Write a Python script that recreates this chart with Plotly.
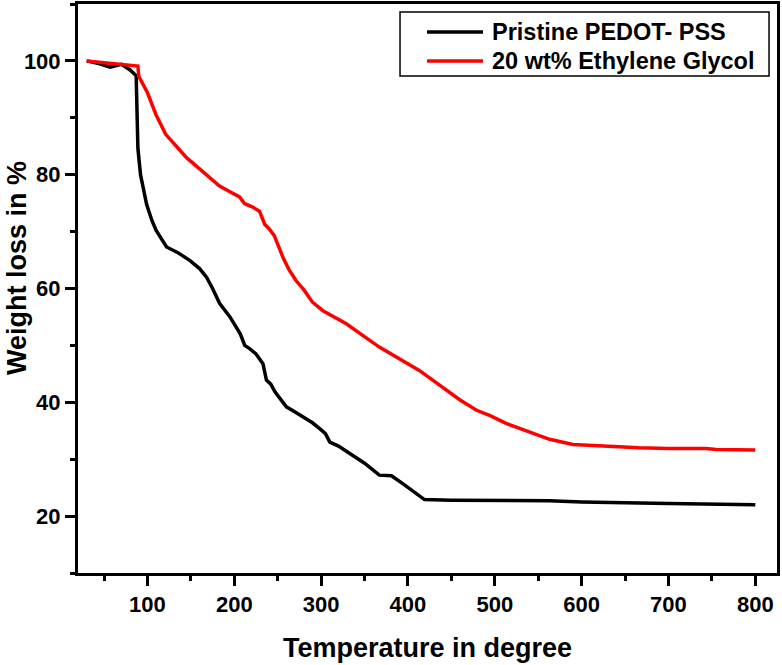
import plotly.graph_objects as go

# Pristine PEDOT-PSS
pristine_temp = [30, 45, 57, 70, 80, 87, 89, 92, 99, 105, 110, 122, 135, 149, 160, 168, 175, 183,
                 195, 202, 207, 212, 218, 225, 233, 237, 242, 247, 255, 260, 270, 279, 290, 298,
                 305, 310, 320, 333, 350, 367, 381, 394, 405, 419, 450, 500, 563, 600, 678, 700, 800]
pristine_wt = [100, 99.5, 98.9, 99.4, 98.4, 97.4, 84.6, 80, 74.8, 72, 70.2, 67.3, 66.3, 64.9, 63.5,
               62, 60, 57.4, 55, 53.2, 52, 50, 49.4, 48.5, 46.8, 43.9, 43.2, 41.8, 40.3, 39.2, 38.3,
               37.4, 36.4, 35.4, 34.5, 33, 32.3, 31, 29.3, 27.2, 27.1, 25.7, 24.5, 22.9, 22.8, 22.8,
               22.7, 22.5, 22.2, 22.2, 22.0]

# 20 wt% Ethylene Glycol
eg_temp = [30, 60, 89, 90, 100, 110, 121, 145, 160, 175, 183, 195, 206, 212, 220, 229, 235, 240,
           246, 256, 263, 271, 280, 290, 302, 329, 367, 413, 444, 460, 479, 494, 513, 540, 563,
           590, 628, 666, 700, 743, 755, 800]
eg_wt = [100, 99.6, 99.1, 97.3, 94.4, 90.5, 87.1, 83, 81, 79, 78, 77, 76.1, 74.9, 74.4, 73.6, 71.3,
         70.5, 69.3, 65.5, 63.3, 61.4, 59.8, 57.6, 56.1, 53.8, 49.7, 45.6, 42.1, 40.4, 38.6, 37.7,
         36.3, 34.8, 33.5, 32.6, 32.3, 32, 31.9, 31.9, 31.7, 31.6]

series_names = ["Pristine PEDOT- PSS", "20 wt% Ethylene Glycol"]
series_colors = ["black", "#ff0000"]

x_ticks = [100, 200, 300, 400, 500, 600, 700, 800]
y_ticks = [20, 40, 60, 80, 100]

FONT = "Liberation Sans, Arial, sans-serif"

fig = go.Figure()
fig.add_trace(go.Scatter(x=pristine_temp, y=pristine_wt, mode="lines",
                         name=series_names[0], showlegend=False,
                         line=dict(color=series_colors[0], width=3.5)))
fig.add_trace(go.Scatter(x=eg_temp, y=eg_wt, mode="lines",
                         name=series_names[1], showlegend=False,
                         line=dict(color=series_colors[1], width=3.5)))

axis_common = dict(
    showline=True, linecolor="black", linewidth=3, mirror=True,
    ticks="outside", ticklen=10, tickwidth=3, tickcolor="black",
    showgrid=False, zeroline=False, automargin=False,
    tickfont=dict(family=FONT, size=22, color="black", weight="bold"),
)

fig.update_xaxes(
    range=[20, 825], tickvals=x_ticks,
    minor=dict(ticks="outside", ticklen=5, tickwidth=3, tickcolor="black", dtick=50, tick0=0, showgrid=False),
    **axis_common,
)
fig.update_yaxes(
    range=[10, 110], tickvals=y_ticks,
    minor=dict(ticks="outside", ticklen=5, tickwidth=3, tickcolor="black", dtick=10, tick0=0, showgrid=False),
    **axis_common,
)

title_font = dict(family=FONT, size=27, color="black", weight="bold")
annotations = [
    dict(text="Temperature in degree", xref="paper", yref="paper", x=0.5, y=-0.1318,
         xanchor="center", yanchor="middle", showarrow=False, font=title_font),
    dict(text="Weight loss in %", xref="paper", yref="paper", x=-0.0873, y=0.536,
         xanchor="center", yanchor="middle", textangle=-90, showarrow=False, font=title_font),
]

# Legend (drawn box with sample lines and labels)
shapes = [dict(type="rect", xref="paper", yref="paper", x0=0.4607, x1=0.9886, y0=0.8735, y1=0.9859,
               line=dict(color="black", width=1.5), fillcolor="white", layer="above")]
legend_rows_y = [0.9508, 0.8998]
for name, color, yy in zip(series_names, series_colors, legend_rows_y):
    shapes.append(dict(type="line", xref="paper", yref="paper", x0=0.4993, x1=0.5794, y0=yy, y1=yy,
                       line=dict(color=color, width=3.5), layer="above"))
    annotations.append(dict(text=name, xref="paper", yref="paper", x=0.5894, y=yy,
                            xanchor="left", yanchor="middle", showarrow=False,
                            font=dict(family=FONT, size=23.5, color="black", weight="bold")))

fig.update_layout(
    width=782, height=665,
    margin=dict(l=78, r=5, t=4, b=92),
    plot_bgcolor="white", paper_bgcolor="white",
    showlegend=False,
    shapes=shapes, annotations=annotations,
)

fig.write_html("out.html", config={"displayModeBar": False},
               post_script="document.body.style.margin='0';")
